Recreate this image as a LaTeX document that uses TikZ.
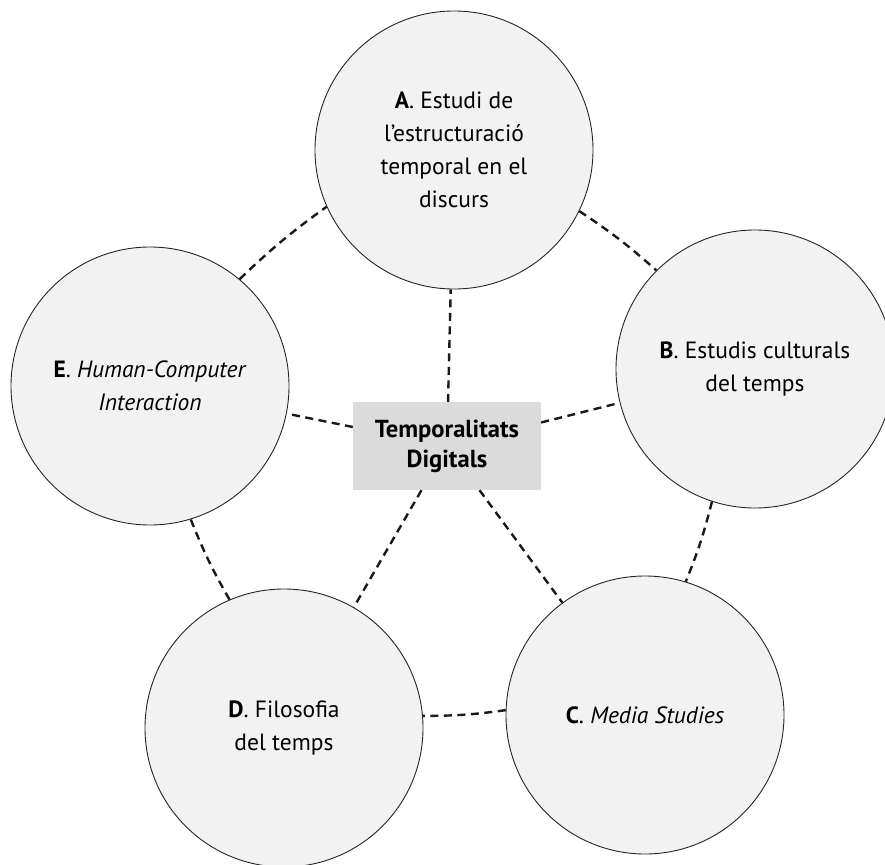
\documentclass[tikz,border=0pt]{standalone}
\usepackage{fontspec}
\setmainfont{PT Sans}
\begin{document}
\begin{tikzpicture}[x=1pt,y=-1pt,
  topic/.style={circle, draw=black!85, line width=0.9pt, fill=black!5,
    minimum size=278pt, inner sep=0pt, align=center,
    font=\fontsize{23.5}{33}\selectfont},
  core/.style={rectangle, fill=black!14, minimum width=188pt,
    minimum height=88pt, inner sep=0pt, align=center,
    font=\fontsize{24.6}{30}\selectfont\bfseries},
  link/.style={draw=black!90, line width=2.4pt, dash pattern=on 8pt off 5.5pt}]
\useasboundingbox (0,0) rectangle (885,864);

% centres of the five topic circles
\coordinate (cA) at (454,150);
\coordinate (cB) at (755,369);
\coordinate (cC) at (645,715);
\coordinate (cD) at (284,728);
\coordinate (cE) at (150,386);

\node[core] (hub) at (447,446) {Temporalitats\\Digitals};

\node[topic] (A) at (cA) {\textbf{A}. Estudi de\\l’estructuració\\temporal en el\\discurs};
\node[topic] (B) at (cB) {\textbf{B}. Estudis culturals\\del temps};
\node[topic] (C) at (cC) {\textbf{C}. \textit{Media Studies}};
\node[topic] (D) at (cD) {\textbf{D}. Filosofia\\del temps};
\node[topic] (E) at (cE) {\textbf{E}. \textit{Human-Computer}\\\textit{Interaction}};

% ring between neighbouring topics
\draw[link] (E.50.5) to[bend left=4] (A.204.8);
\draw[link] (A.-26) to[bend left=4] (B.135.9);
\draw[link] (B.-108.2) to[bend left=4] (C.73.8);
\draw[link] (C.178.4) to[bend left=4] (D.5.3);
\draw[link] (D.113.8) to[bend left=4] (E.-73.6);

% spokes from the centre
\foreach \t in {A,B,C,D,E}
  \draw[link] (hub) -- (\t);
\end{tikzpicture}
\end{document}
